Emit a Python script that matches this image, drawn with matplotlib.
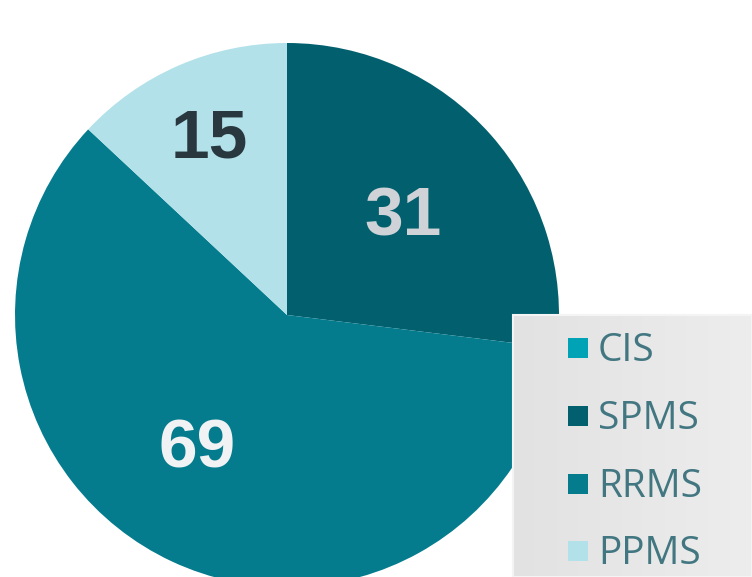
import matplotlib
matplotlib.use("Agg")
import matplotlib.pyplot as plt
import numpy as np
from matplotlib.patches import Rectangle

categories = ["CIS", "SPMS", "RRMS", "PPMS"]
values = [0, 31, 69, 15]
colors = ["#00A2B6", "#02606E", "#047C8E", "#B2E1E9"]
label_colors = [None, "#CFD3D7", "#F0F2F4", "#29383F"]

W, H = 752, 577
fig = plt.figure(figsize=(W / 100, H / 100), dpi=100)
ax = fig.add_axes([0, 0, 1, 1])

cx, cy, R = 287, H - 315, 272
wedges, _ = ax.pie(values, colors=colors, startangle=90, counterclock=False,
                   center=(cx, cy), radius=R, frame=True,
                   wedgeprops=dict(linewidth=0))

# value labels (baseline positions)
label_pos = {1: (403, H - 236), 2: (197, H - 468), 3: (209, H - 158)}
for i, (x, y) in label_pos.items():
    ax.text(x, y, str(values[i]), ha="center", va="baseline",
            fontsize=50, fontweight="bold", family="Liberation Sans",
            color=label_colors[i], zorder=5)

# legend box with gradient
x0, y0 = 513, 0
grad = np.linspace(0, 1, 256).reshape(1, -1)
cmap = matplotlib.colors.LinearSegmentedColormap.from_list("g", ["#E2E2E2", "#EDEDED"])
ax.imshow(np.tile(grad, (2, 1)), extent=(x0, W, y0, H - 315), cmap=cmap,
          aspect="auto", zorder=6)
ax.add_patch(Rectangle((x0, y0), W - x0, H - 315 - y0, facecolor="none",
                       edgecolor="#F4F4F4", linewidth=1.5, zorder=7))

entry_y = [361, 429, 497, 564]
for c, col, yy in zip(categories, colors, entry_y):
    ax.add_patch(Rectangle((568, H - yy + 3), 20, 20, facecolor=col,
                           edgecolor="none", zorder=8))
    ax.text(598, H - yy, c, ha="left", va="baseline", fontsize=28,
            family="Open Sans", fontweight="medium", color="#427782", zorder=8)

ax.set_xlim(0, W)
ax.set_ylim(0, H)
ax.set_aspect("equal")
ax.axis("off")

fig.savefig("out.png", dpi=100)
